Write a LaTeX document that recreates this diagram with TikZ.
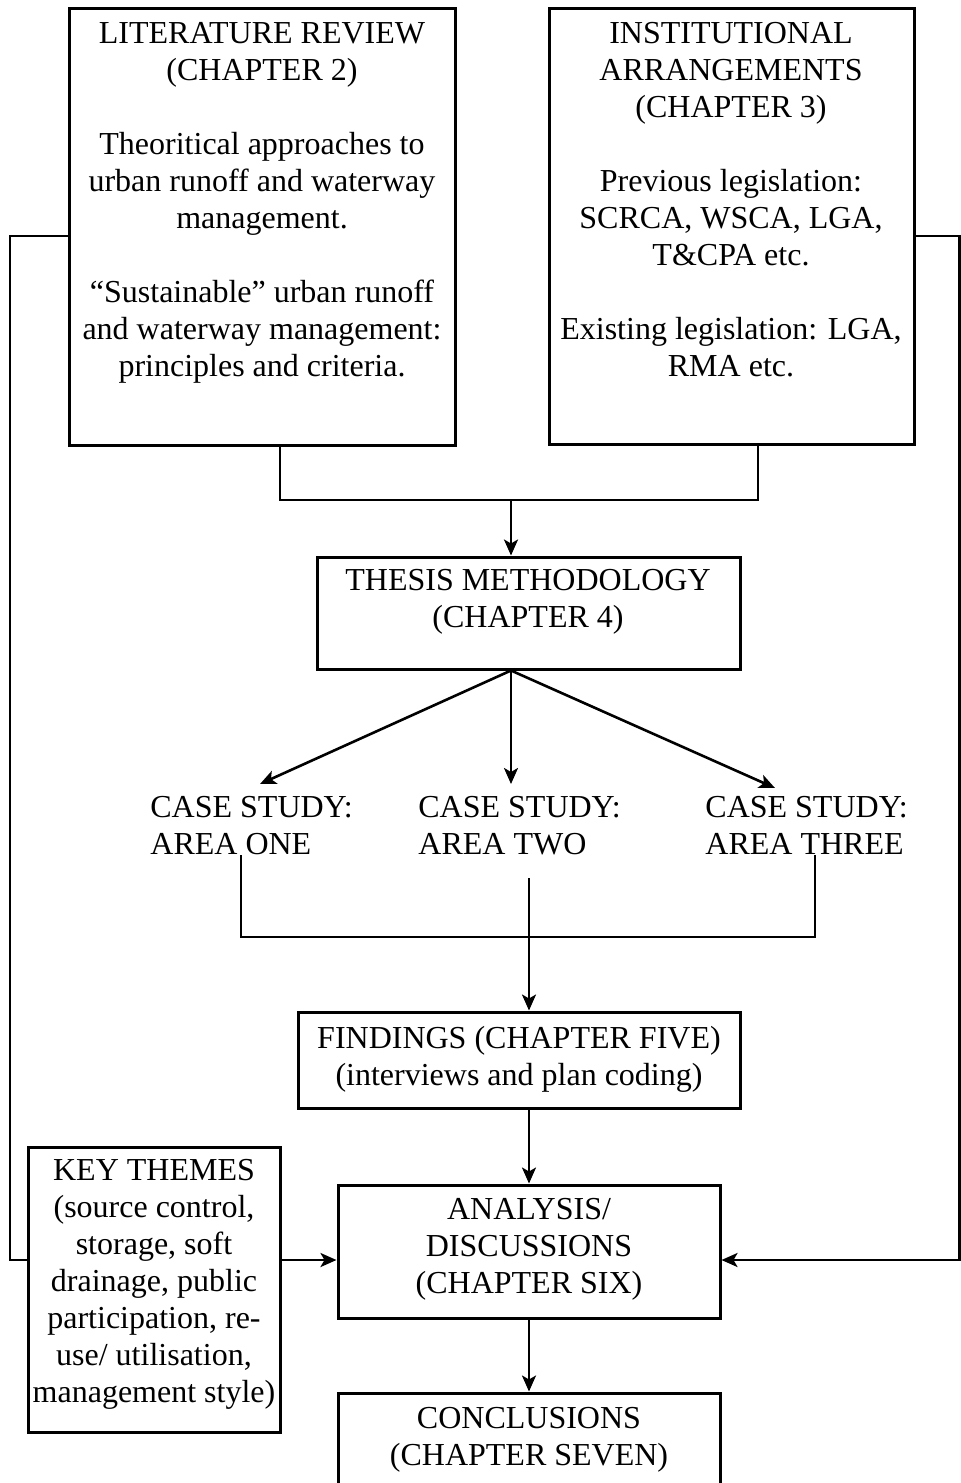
\documentclass[tikz,border=0pt]{standalone}
\usepackage{fontspec}
\setmainfont{Liberation Serif}
\usetikzlibrary{arrows.meta}
\begin{document}
\begin{tikzpicture}[x=0.5pt,y=-0.5pt,
  frame/.style={draw, line width=1.5pt, rectangle, inner sep=0pt, fill=white},
  txt/.style={align=center, inner sep=0pt, anchor=north, font=\fontsize{16}{18.5}\selectfont},
  casetxt/.style={align=left, inner sep=0pt, anchor=north west, font=\fontsize{16}{18.5}\selectfont},
  link/.style={line width=1.3pt},
  arr/.style={link, -{Stealth[length=8pt,width=7pt,inset=2pt]}}
]
\useasboundingbox (0,0) rectangle (961,1483);
\clip (0,0) rectangle (961,1483);

% chapter boxes
\node[frame, minimum width=193pt, minimum height=218.5pt] (lit) at (262,226.5) {};
\node[frame, minimum width=182.5pt, minimum height=218pt] (inst) at (731.5,226) {};
\node[frame, minimum width=211.5pt, minimum height=56pt] (meth) at (528.5,613) {};
\node[frame, minimum width=221pt, minimum height=48pt] (fnd) at (519,1060) {};
\node[frame, minimum width=126pt, minimum height=142.5pt] (key) at (154,1289.5) {};
\node[frame, minimum width=191pt, minimum height=66.5pt] (ana) at (529,1251.5) {};
\node[frame, minimum width=191pt, minimum height=58.5pt] (conc) at (529,1451.5) {};

% box texts
\node[txt] (litT) at (262,22) {LITERATURE REVIEW\\(CHAPTER 2)\\[18.5pt]Theoritical approaches to\\urban runoff and waterway\\management.\\[18.5pt]“Sustainable” urban runoff\\and waterway management:\\principles and criteria.};
\node[txt] (instT) at (731,22) {INSTITUTIONAL\\ARRANGEMENTS\\(CHAPTER 3)\\[18.5pt]Previous legislation:\\SCRCA, WSCA, LGA,\\T\&CPA etc.\\[18.5pt]Existing legislation: LGA,\\RMA etc.};
\node[txt] (methT) at (528,569) {THESIS METHODOLOGY\\(CHAPTER 4)};
\node[txt] (fndT) at (519,1026) {FINDINGS (CHAPTER FIVE)\\(interviews and plan coding)};
\node[txt] (keyT) at (154,1159) {KEY THEMES\\(source control,\\storage, soft\\drainage, public\\participation, re-\\use/ utilisation,\\management style)};
\node[txt] (anaT) at (529,1198) {ANALYSIS/\\DISCUSSIONS\\(CHAPTER SIX)};
\node[txt] (concT) at (529,1407) {CONCLUSIONS\\(CHAPTER SEVEN)};

% case studies
\node[casetxt] (c1) at (150,796) {CASE STUDY:\\AREA ONE};
\node[casetxt] (c2) at (418,796) {CASE STUDY:\\AREA TWO};
\node[casetxt] (c3) at (705,796) {CASE STUDY:\\AREA THREE};

% joints
\coordinate (jl) at (10,236);
\coordinate (jlb) at (10,1260);
\coordinate (jr) at (959.5,236);
\coordinate (jrb) at (959.5,1260);
\coordinate (ml) at (280,500);
\coordinate (mr) at (758,500);
\coordinate (mc) at (511,500);
\coordinate (t1) at (260,784);
\coordinate (t2) at (511,784);
\coordinate (t3) at (775,788);
\coordinate (b1) at (241,937);
\coordinate (b3) at (815,937);
\coordinate (bc) at (529,937);
\coordinate (s2) at (529,878);

% connectors
\draw[link] (lit.west |- jl) -- (jl) -- (jlb) -- (key.west |- jlb);
\draw[arr] (key.east |- jlb) -- (ana.west |- jlb);
\draw[arr] (inst.east |- jr) -- (jr) -- (jrb) -- (ana.east |- jrb);
\draw[link] (lit.south -| ml) -- (ml) -- (mr) -- (inst.south -| mr);
\draw[arr] (mc) -- (meth.north -| mc);
\draw[arr] (meth.south -| mc) -- (t1);
\draw[arr] (meth.south -| mc) -- (t2);
\draw[arr] (meth.south -| mc) -- (t3);
\draw[link] (c1.south -| b1) -- (b1) -- (b3) -- (c3.south -| b3);
\draw[arr] (s2) -- (fnd.north -| bc);
\draw[arr] (fnd.south -| ana.north) -- (ana.north);
\draw[arr] (ana.south) -- (conc.north);
\end{tikzpicture}
\end{document}
